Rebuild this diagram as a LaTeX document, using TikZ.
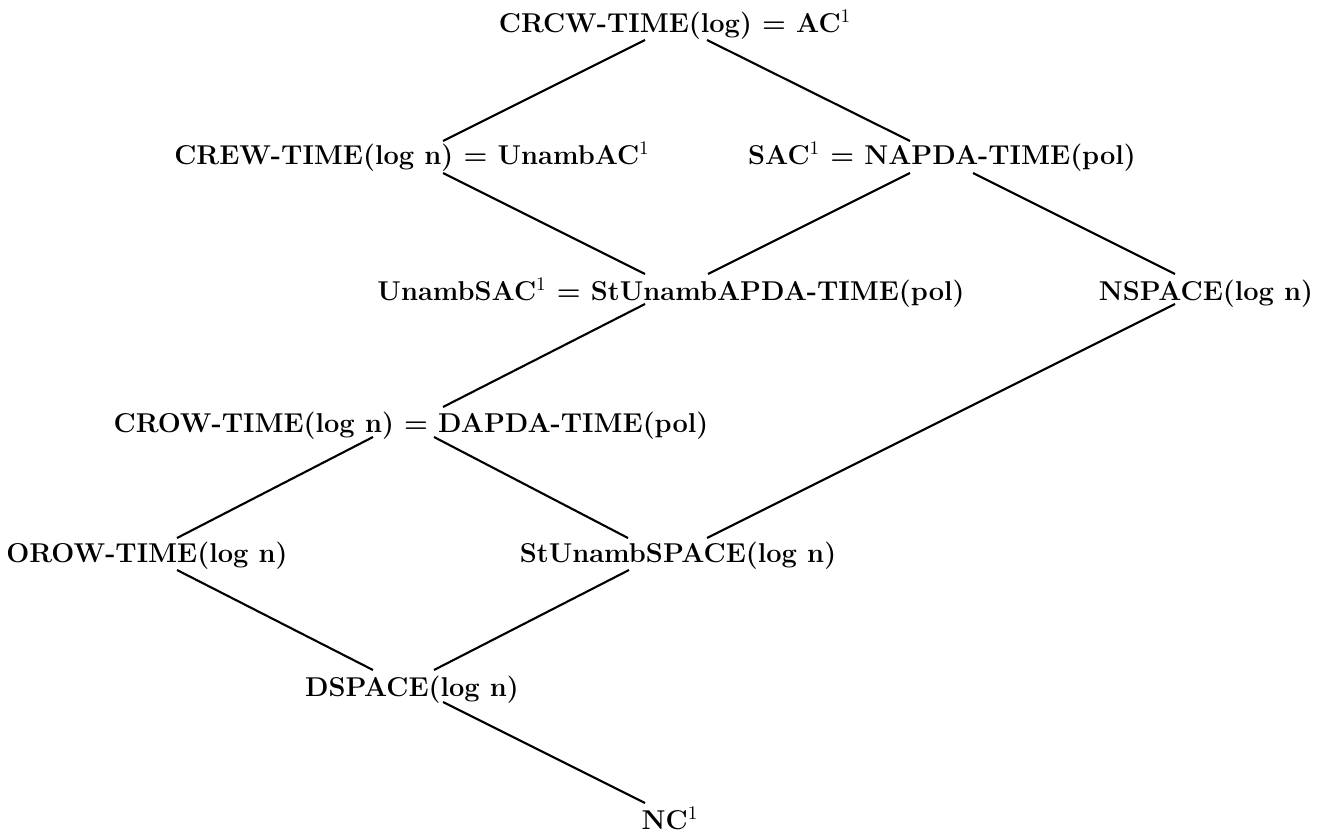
\documentclass[tikz,border=0pt]{standalone}
\begin{document}
\begin{tikzpicture}[x=0.02cm,y=-0.02cm,
  cls/.style={anchor=base,inner sep=0pt,font=\fontsize{15.5}{18}\selectfont\bfseries},
  incl/.style={line width=1.2pt}]
\useasboundingbox (0,0) rectangle (1328,835);

% complexity classes
\node[cls] (crcw)  at (675,32)  {CRCW-TIME(log) = AC$^1$};
\node[cls] (crew)  at (412,164) {CREW-TIME(log n) = UnambAC$^1$};
\node[cls] (sac)   at (942,164) {SAC$^1$ = NAPDA-TIME(pol)};
\node[cls] (usac)  at (671,300) {UnambSAC$^1$ = StUnambAPDA-TIME(pol)};
\node[cls] (nsp)   at (1206,300) {NSPACE(log n)};
\node[cls] (crow)  at (411,432) {CROW-TIME(log n) = DAPDA-TIME(pol)};
\node[cls] (orow)  at (147,562) {OROW-TIME(log n)};
\node[cls] (susp)  at (678,562) {StUnambSPACE(log n)};
\node[cls] (dsp)   at (412,696) {DSPACE(log n)};
\node[cls] (nc)    at (670,829) {NC$^1$};

% attachment points of the inclusion edges
\coordinate (crcw-l) at (645,40);   \coordinate (crcw-r) at (707,40);
\coordinate (crew-t) at (443,141);  \coordinate (crew-b) at (443,173);
\coordinate (sac-t)  at (910,141);  \coordinate (sac-bl) at (910,173);
\coordinate (sac-br) at (973,173);
\coordinate (usac-tl) at (645,274); \coordinate (usac-tr) at (708,274);
\coordinate (usac-b)  at (645,304);
\coordinate (nsp-t)  at (1175,274); \coordinate (nsp-b)  at (1175,304);
\coordinate (crow-t) at (443,407);  \coordinate (crow-bl) at (373,437);
\coordinate (crow-br) at (434,437);
\coordinate (orow-t) at (177,538);  \coordinate (orow-b) at (177,570);
\coordinate (susp-tl) at (628,538); \coordinate (susp-tr) at (707,538);
\coordinate (susp-b)  at (629,570);
\coordinate (dsp-tl) at (373,670);  \coordinate (dsp-tr) at (434,670);
\coordinate (dsp-b)  at (443,702);
\coordinate (nc-t)   at (645,803);

% inclusion edges
\draw[incl] (crcw-l) -- (crew-t);
\draw[incl] (crcw-r) -- (sac-t);
\draw[incl] (crew-b) -- (usac-tl);
\draw[incl] (sac-bl) -- (usac-tr);
\draw[incl] (sac-br) -- (nsp-t);
\draw[incl] (usac-b) -- (crow-t);
\draw[incl] (nsp-b)  -- (susp-tr);
\draw[incl] (crow-bl) -- (orow-t);
\draw[incl] (crow-br) -- (susp-tl);
\draw[incl] (orow-b) -- (dsp-tl);
\draw[incl] (susp-b) -- (dsp-tr);
\draw[incl] (dsp-b)  -- (nc-t);
\end{tikzpicture}
\end{document}
